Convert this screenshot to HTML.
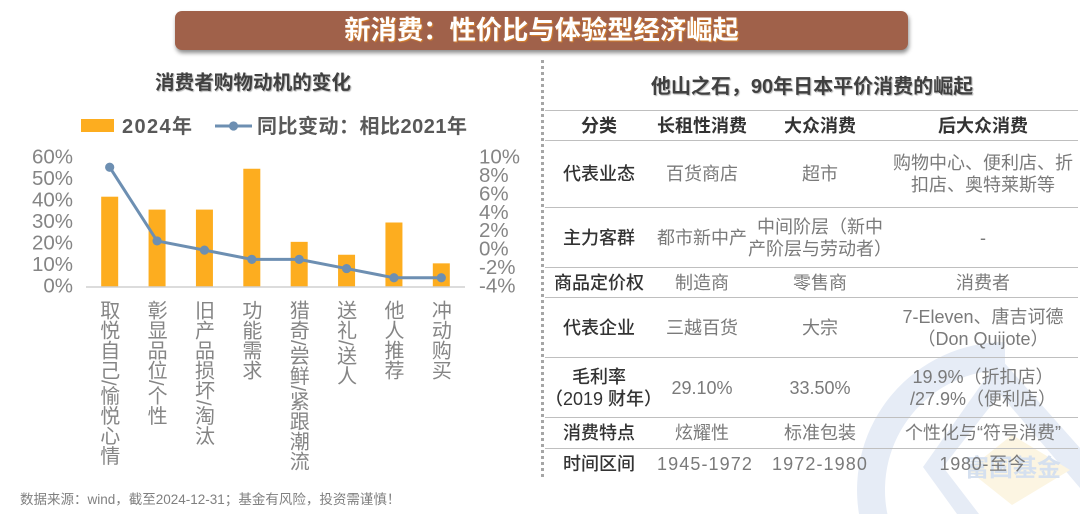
<!DOCTYPE html>
<html lang="zh-CN">
<head>
<meta charset="utf-8">
<title>新消费：性价比与体验型经济崛起</title>
<style>
html,body{margin:0;padding:0;background:#fff;width:1080px;height:514px;overflow:hidden;}
body{position:relative;font-family:"Liberation Sans","Noto Sans CJK SC",sans-serif;}
svg{position:absolute;left:0;top:0;}
.banner{position:absolute;left:175px;top:11px;width:733px;height:39px;background:#a0614a;border-radius:7px;box-shadow:1px 3px 4px rgba(0,0,0,.45);color:#fff;font-size:26.3px;font-weight:700;line-height:38px;text-align:center;text-shadow:1px 1px 1px #d9822b;}
.heading{position:absolute;color:#404040;font-weight:700;white-space:nowrap;text-align:center;text-shadow:1px 1px 1px #b5b5b5;}
.divider{position:absolute;left:541px;top:60px;width:3px;height:420px;background:repeating-linear-gradient(to bottom,#a6a6a6 0 3px,transparent 3px 6px);}
table{position:absolute;left:545px;top:110px;width:533px;border-collapse:collapse;table-layout:fixed;color:#7a7a7a;font-size:18px;line-height:22px;}
td,th{padding:0;text-align:center;vertical-align:middle;white-space:nowrap;border-top:1.5px solid #bfbfbf;font-weight:400;}
thead th{font-weight:700;color:#333;}
tbody th{color:#333;font-weight:500;}
tr.last td,tr.last th{border-bottom:0;}
td.c4,th.c4{padding-right:5px;}
th.c1{padding-right:4px;}
.source{position:absolute;left:20px;top:491px;font-size:13.5px;line-height:18px;color:#808080;white-space:nowrap;}
</style>
</head>
<body>

<svg width="1080" height="514" viewBox="0 0 1080 514">
  <path d="M859,514 A148,148 0 0 1 1005,342 L1005,370 A120,120 0 0 0 887.4,514 Z" fill="#e6ecf6"/>
  <polygon points="957,514 923,467 1000,358 1080,448 1080,488 1000,394 943,467 979,514" fill="#e6ecf6"/>
  <polygon points="1012,435 1070,470 1012,505 968,470" fill="#fcf5e2"/>
  <text x="1013" y="476" text-anchor="middle" font-size="24" font-weight="700" fill="#d5e0ef" font-family="'Liberation Sans','Noto Sans CJK SC',sans-serif">富国基金</text>
</svg>

<div class="banner">新消费：性价比与体验型经济崛起</div>
<div class="heading" style="left:155px;top:70px;width:196px;font-size:19.6px;line-height:26px;">消费者购物动机的变化</div>
<div class="heading" style="left:640px;top:74px;width:344px;font-size:20px;line-height:26px;">他山之石，90年日本平价消费的崛起</div>
<div class="divider"></div>

<svg id="chart" width="540" height="490" viewBox="0 0 540 490"></svg>

<table>
  <colgroup><col style="width:112px"><col style="width:90px"><col style="width:146px"><col style="width:185px"></colgroup>
  <thead>
    <tr style="height:30px">
      <th class="c1">分类</th>
      <th>长租性消费</th>
      <th>大众消费</th>
      <th class="c4">后大众消费</th>
    </tr>
  </thead>
  <tbody>
    <tr style="height:67px">
      <th class="c1" scope="row">代表业态</th>
      <td>百货商店</td>
      <td>超市</td>
      <td class="c4">购物中心、便利店、折<br>扣店、奥特莱斯等</td>
    </tr>
    <tr style="height:60px">
      <th class="c1" scope="row">主力客群</th>
      <td>都市新中产</td>
      <td>中间阶层（新中<br>产阶层与劳动者）</td>
      <td class="c4">-</td>
    </tr>
    <tr style="height:30px">
      <th class="c1" scope="row">商品定价权</th>
      <td>制造商</td>
      <td>零售商</td>
      <td class="c4">消费者</td>
    </tr>
    <tr style="height:60px">
      <th class="c1" scope="row">代表企业</th>
      <td>三越百货</td>
      <td>大宗</td>
      <td class="c4">7-Eleven、唐吉诃德<br>（Don Quijote）</td>
    </tr>
    <tr style="height:60px">
      <th class="c1" scope="row">毛利率<br>（2019 财年）</th>
      <td>29.10%</td>
      <td>33.50%</td>
      <td class="c4">19.9%（折扣店）<br>/27.9%（便利店）</td>
    </tr>
    <tr style="height:31px">
      <th class="c1" scope="row">消费特点</th>
      <td>炫耀性</td>
      <td>标准包装</td>
      <td class="c4">个性化与“符号消费”</td>
    </tr>
    <tr class="last" style="height:30px">
      <th class="c1" scope="row">时间区间</th>
      <td style="letter-spacing:1.1px">1945-1972</td>
      <td style="letter-spacing:1.1px">1972-1980</td>
      <td class="c4" style="letter-spacing:.7px">1980-至今</td>
    </tr>
  </tbody>
</table>

<div class="source">数据来源：wind，截至2024-12-31；基金有风险，投资需谨慎！</div>

<script>
const categories = ['取悦自己/愉悦心情','彰显品位/个性','旧产品损坏/淘汰','功能需求','猎奇/尝鲜/紧跟潮流','送礼/送人','他人推荐','冲动购买'];
const barValues = [42,36,36,55,21,15,30,11];
const lineValues = [9,1,0,-1,-1,-2,-3,-3];
const leftTicks = [0,10,20,30,40,50,60];
const rightTicks = [-4,-2,0,2,4,6,8,10];
const barSeriesName = '2024年';
const lineSeriesName = '同比变动：相比2021年';

const NS = 'http://www.w3.org/2000/svg';
const svg = document.getElementById('chart');
const FONT = '"Liberation Sans","Noto Sans CJK SC",sans-serif';
const BASE_Y = 287;
const TOP_Y = 158;
const PLOT_LEFT = 86;
const PLOT_RIGHT = 465;
const BAR_COLOR = '#fdad1f';
const LINE_COLOR = '#6d8fb2';
const AXIS_TEXT = '#858585';

function yLeft(v){ return BASE_Y - (v / 60) * (BASE_Y - TOP_Y); }
function yRight(v){ return BASE_Y - ((v + 4) / 14) * (BASE_Y - TOP_Y); }
function xBand(i){ return PLOT_LEFT + (PLOT_RIGHT - PLOT_LEFT) * (i + 0.5) / categories.length; }
function make(tag, attrs){
  const el = document.createElementNS(NS, tag);
  for (const k in attrs) el.setAttribute(k, attrs[k]);
  svg.appendChild(el);
  return el;
}

barValues.forEach(function(v, i){
  const bar = make('rect', {x: xBand(i) - 8.5, y: yLeft(v), width: 17, height: BASE_Y - yLeft(v), fill: BAR_COLOR});
  
  
});

const axis = make('line', {x1: PLOT_LEFT, x2: PLOT_RIGHT, y1: BASE_Y, y2: BASE_Y, stroke: '#d0d0d0', 'stroke-width': 1.5});



const linePath = make('polyline', {
  points: lineValues.map(function(v, i){ return xBand(i) + ',' + yRight(v); }).join(' '),
  fill: 'none', stroke: LINE_COLOR, 'stroke-width': 3
});



lineValues.forEach(function(v, i){
  const dot = make('circle', {cx: xBand(i), cy: yRight(v), r: 4.6, fill: LINE_COLOR});
  
  
});

leftTicks.forEach(function(v){
  const t = make('text', {x: 73, y: yLeft(v) + 5.5, 'text-anchor': 'end', 'font-size': 20.5, fill: AXIS_TEXT, 'font-family': FONT});
  t.textContent = v + '%';
  
  
});

rightTicks.forEach(function(v){
  const t = make('text', {x: 479, y: yRight(v) + 5.5, 'text-anchor': 'start', 'font-size': 20.5, fill: AXIS_TEXT, 'font-family': FONT});
  t.textContent = v + '%';
  
  
});

categories.forEach(function(c, i){
  const t = make('text', {x: xBand(i) - 2, y: 300, 'font-size': 20, fill: AXIS_TEXT, 'font-family': FONT, 'writing-mode': 'vertical-rl'});
  t.textContent = c;
  
  
});

const legendSwatch = make('rect', {x: 81, y: 119, width: 33, height: 13, fill: BAR_COLOR});



const legendBarText = make('text', {x: 122, y: 133, 'font-size': 20, 'font-weight': 700, fill: '#595959', 'font-family': FONT, textLength: 70, lengthAdjust: 'spacing'});
legendBarText.textContent = barSeriesName;



const legendLine = make('line', {x1: 215, x2: 252, y1: 126, y2: 126, stroke: LINE_COLOR, 'stroke-width': 3});



const legendDot = make('circle', {cx: 233.5, cy: 126, r: 4.6, fill: LINE_COLOR});



const legendLineText = make('text', {x: 257, y: 133, 'font-size': 20, 'font-weight': 700, fill: '#595959', 'font-family': FONT, textLength: 210, lengthAdjust: 'spacing'});
legendLineText.textContent = lineSeriesName;


</script>
</body>
</html>
